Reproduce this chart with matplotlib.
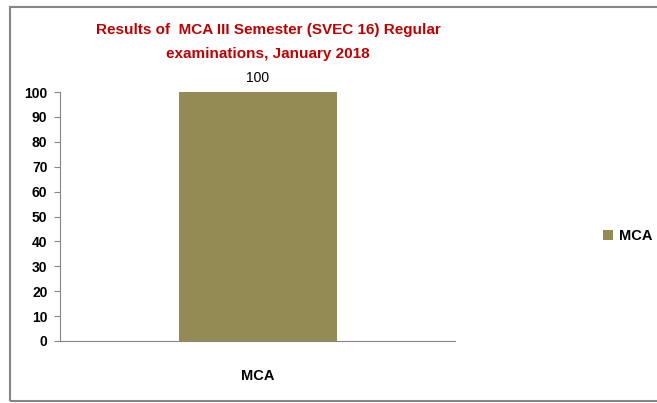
import matplotlib
matplotlib.use("Agg")
import matplotlib.pyplot as plt
from matplotlib.patches import Rectangle

# === data ===
categories = ["MCA"]
pass_pct = [100]
series_name = "MCA"
title = "Results of  MCA III Semester (SVEC 16) Regular\nexaminations, January 2018"

plt.rcParams['font.family'] = ['Liberation Sans', 'DejaVu Sans']

fig = plt.figure(figsize=(6.57, 4.03), dpi=100)

# outer chart border (right edge runs off the picture)
fig.patches.append(Rectangle((9.5 / 657, 2.5 / 403), 1.2, 393.5 / 403,
                             transform=fig.transFigure, fill=False,
                             edgecolor='#868686', linewidth=1.5))

ax = fig.add_axes([60 / 657, 62 / 403, 395 / 657, 249 / 403])
bars = ax.bar(categories, pass_pct, width=0.4, color='#948A54', label=series_name)
ax.set_xlim(-0.5, 0.5)
ax.set_ylim(0, 100)
ax.set_yticks(range(0, 101, 10))

for rect, v in zip(bars, pass_pct):
    ax.text(rect.get_x() + rect.get_width() / 2, v + 3, str(v),
            ha='center', va='bottom', fontsize=10)

for s in ['top', 'right']:
    ax.spines[s].set_visible(False)
ax.spines['left'].set_color('#868686')
ax.spines['bottom'].set_color('#868686')
ax.tick_params(axis='y', colors='#868686', labelcolor='black', length=4, pad=5, labelsize=10)
ax.tick_params(axis='x', length=0, labelsize=10.5, pad=20)
for lbl in ax.get_yticklabels() + ax.get_xticklabels():
    lbl.set_fontweight('bold')

fig.text(268 / 657, 1 - 42 / 403, title, ha='center', va='center',
         color='#C00000', fontsize=11, fontweight='bold', linespacing=1.9)

fig.legend(loc='center left', bbox_to_anchor=(590 / 657, 1 - 236 / 403),
           frameon=False, handlelength=0.7, handleheight=0.7,
           handletextpad=0.4, prop={'weight': 'bold', 'size': 10.5})

fig.savefig("out.png", dpi=100)
